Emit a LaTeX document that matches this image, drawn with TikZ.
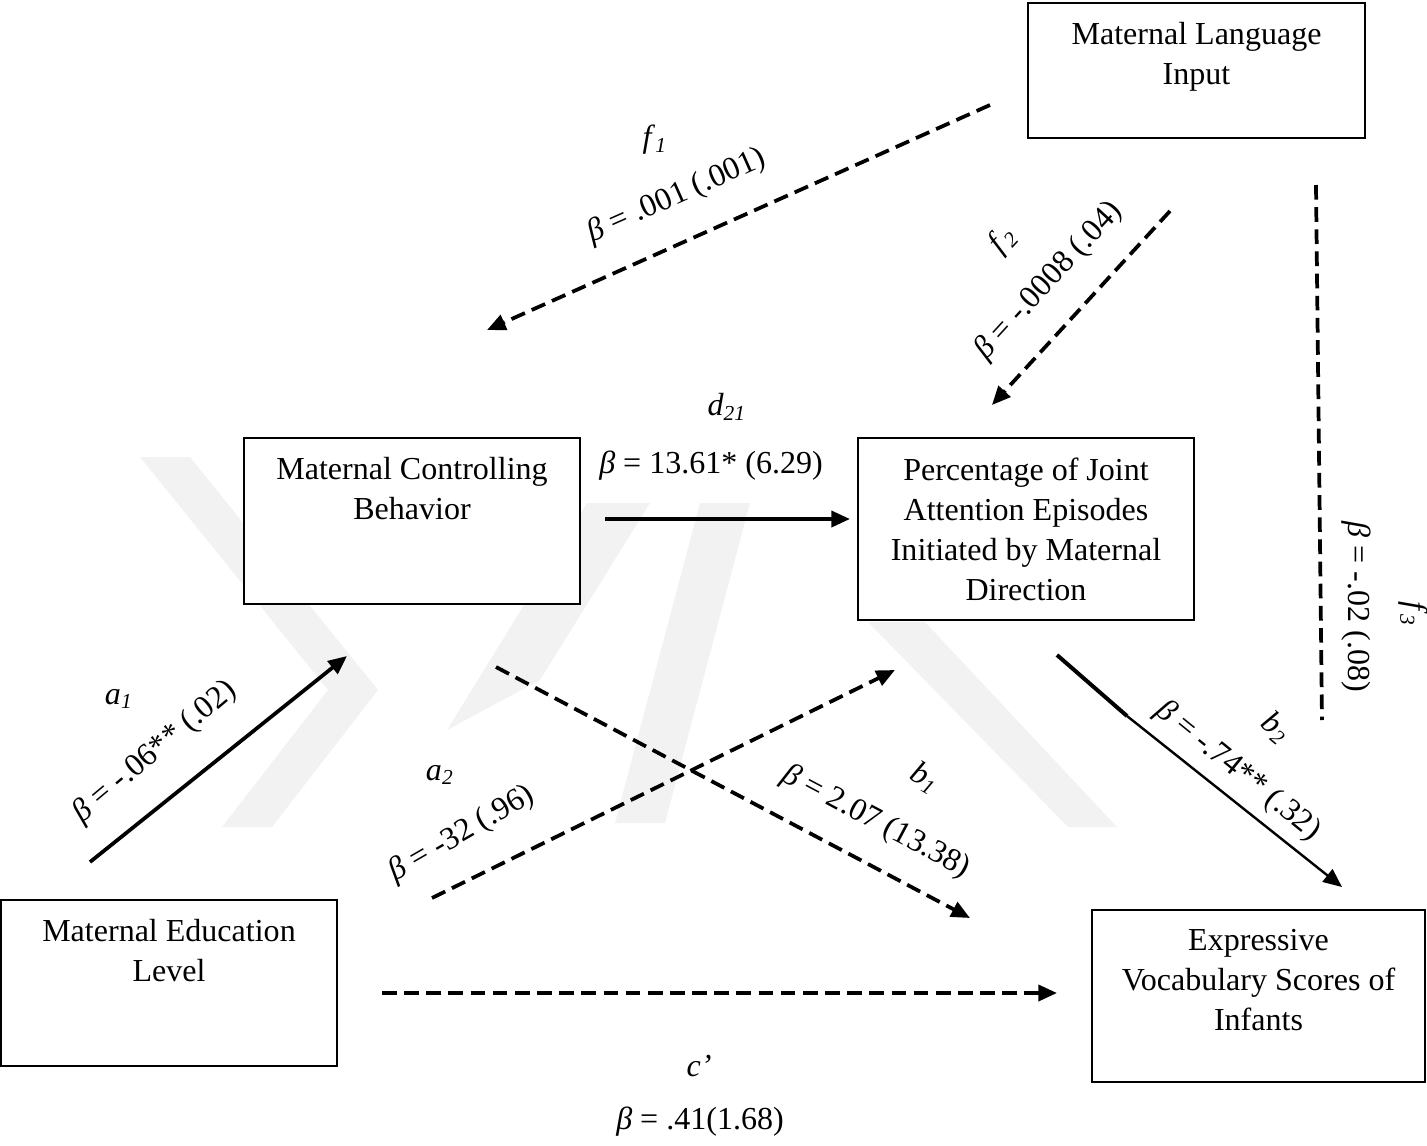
\documentclass[tikz,border=0pt]{standalone}
\usepackage{fontspec}
\setmainfont{Liberation Serif}
\usetikzlibrary{arrows.meta,positioning}
\newcommand{\coef}[2]{\textit{#1}\textsubscript{\textit{#2}}}
\newcommand{\bt}{\textit{β}}
\tikzset{x=0.01317cm, y=-0.01317cm, % one unit = one pixel of the original
        box/.style={ % the five variables
            draw, fill=white,
            line width=0.8pt,
            inner sep=0pt},
        boxtext/.style={ % text at the top of a box
            inner sep=0pt, align=center,
            font=\fontsize{12}{15}\selectfont},
        lbl/.style={inner sep=0pt, font=\fontsize{12}{15}\selectfont},
        sig/.style={ % solid paths
            line width=1.4pt,
            -{Triangle[length=7pt,width=6pt]}},
        nonsig/.style={ % dashed paths
            sig, dash pattern=on 5.5pt off 2.8pt},
        wm/.style={fill=black!5, draw=none} % faint watermark
        }
\begin{document}
\begin{tikzpicture}
    \useasboundingbox (0,0) rectangle (1427,1145);

    % watermark
    \fill[wm] (140,457) -- (190,457) -- (378,690) -- (272,827) -- (222,827) -- (328,690) -- cycle;
    \fill[wm] (587,503) -- (650,503) -- (540,680) -- (447,730) -- cycle;
    \fill[wm] (700,503) -- (750,503) -- (665,823) -- (615,823) -- cycle;
    \fill[wm] (868,622) -- (925,622) -- (1117,827) -- (1068,827) -- cycle;

    \node[box, minimum width=126.3pt, minimum height=50.6pt] (lang)  at (1196.5,70.5) {};
    \node[box, minimum width=125.9pt, minimum height=62.2pt] (ctrl)  at (412,521)     {};
    \node[box, minimum width=125.9pt, minimum height=68.2pt] (joint) at (1026,529)    {};
    \node[box, minimum width=125.9pt, minimum height=62.2pt] (edu)   at (169,983)     {};
    \node[box, minimum width=124.8pt, minimum height=64.4pt] (vocab) at (1258.5,996)  {};

    \node[boxtext, below=7.5pt of lang.north]  (lang-t)  {Maternal Language\\Input};
    \node[boxtext, below=7.5pt of ctrl.north]  (ctrl-t)  {Maternal Controlling\\Behavior};
    \node[boxtext, below=7.5pt of joint.north] (joint-t) {Percentage of Joint\\Attention Episodes\\Initiated by Maternal\\Direction};
    \node[boxtext, below=7.5pt of edu.north]   (edu-t)   {Maternal Education\\Level};
    \node[boxtext, below=7.5pt of vocab.north] (vocab-t) {Expressive\\Vocabulary Scores of\\Infants};

    \coordinate (f1s) at (990,105);   \coordinate (f1e) at (487,330);
    \coordinate (f2s) at (1170,211);  \coordinate (f2e) at (992,405);
    \coordinate (f3s) at (1316,185);  \coordinate (f3e) at (1322,720);
    \coordinate (ds)  at (605,519);   \coordinate (de)  at (850,519);
    \coordinate (a1s) at (90,862);    \coordinate (a1e) at (347,656);
    \coordinate (a2s) at (432,898);   \coordinate (a2e) at (895,670);
    \coordinate (b1s) at (496,667);   \coordinate (b1e) at (970,918);
    \coordinate (b2s) at (1057,655);  \coordinate (b2m) at (1127,716);
    \coordinate (b2e) at (1342,887);
    \coordinate (cs)  at (382,993);   \coordinate (ce)  at (1057,993);

    \draw[nonsig] (f1s) -- (f1e);
    \draw[nonsig] (f2s) -- (f2e);
    \draw[nonsig, -] (f3s) -- (f3e);
    \draw[sig] (ds) -- (de);
    \draw[sig] (a1s) -- (a1e);
    \draw[nonsig] (a2s) -- (a2e);
    \draw[nonsig] (b1s) -- (b1e);
    \draw[line width=1.5pt] (b2s) -- (b2m);
    \draw[sig, line width=0.9pt] (b2m) -- (b2e);
    \draw[nonsig] (cs) -- (ce);

    \node[lbl] (f1)   at (655,140) {\coef{f}{1}};
    \node[lbl, rotate=24] (f1b) at (677,196) {\bt\ = .001 (.001)};
    \node[lbl, rotate=47] (f2) at (1003,240) {\coef{f}{2}};
    \node[lbl, rotate=47.5] (f2b) at (1049,281) {\bt\ = -.0008 (.04)};
    \node[lbl, rotate=-90] (f3) at (1413,614) {\coef{f}{3}};
    \node[lbl, rotate=-90] (f3b) at (1356,607) {\bt\ = -.02 (.08)};
    \node[lbl] (d21)  at (727,407) {\coef{d}{21}};
    \node[lbl] (d21b) at (711,466) {\bt\ = 13.61* (6.29)};
    \node[lbl] (a1)   at (119,699) {\coef{a}{1}};
    \node[lbl, rotate=40] (a1b) at (155,752) {\bt\ = -.06** (.02)};
    \node[lbl] (a2)   at (440,775) {\coef{a}{2}};
    \node[lbl, rotate=30] (a2b) at (462,834) {\bt\ = -32 (.96)};
    \node[lbl, rotate=-30] (b1) at (925,778) {\coef{b}{1}};
    \node[lbl, rotate=-28] (b1b) at (876,822) {\bt\ = 2.07 (13.38)};
    \node[lbl, rotate=-40] (b2) at (1276,728) {\coef{b}{2}};
    \node[lbl, rotate=-39] (b2b) at (1238,771) {\bt\ = -.74** (.32)};
    \node[lbl] (c)    at (699,1066) {\textit{c’}};
    \node[lbl] (cb)   at (700,1122) {\bt\ = .41(1.68)};
\end{tikzpicture}
\end{document}
